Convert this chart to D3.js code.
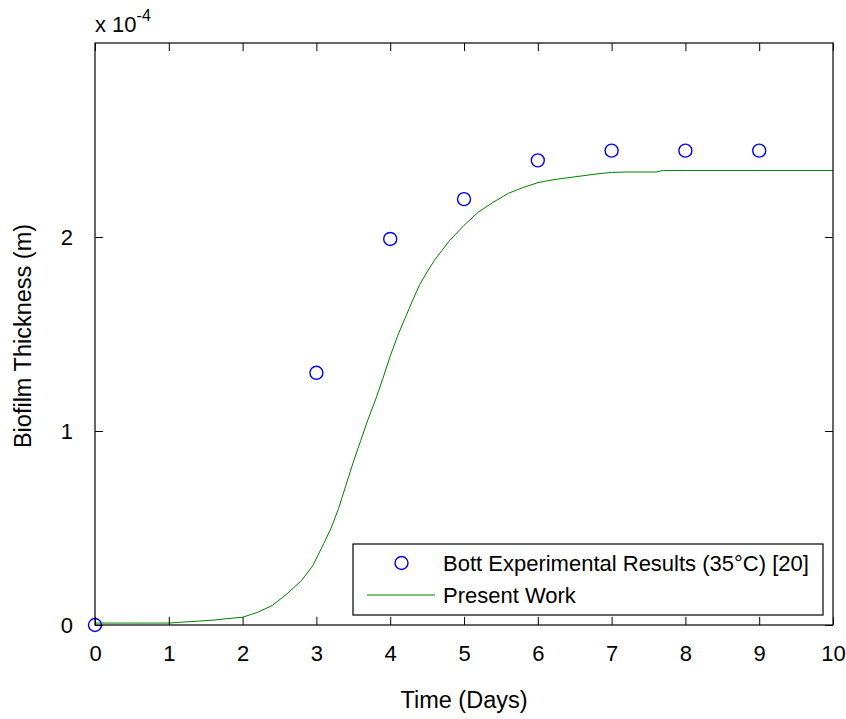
<!DOCTYPE html>
<html>
<head>
<meta charset="utf-8">
<script src="https://cdn.jsdelivr.net/npm/d3@7"></script>
<style>
  html, body { margin: 0; padding: 0; background: #fff; }
  svg { display: block; font-family: "Liberation Sans", Arial, sans-serif; }
</style>
</head>
<body>
<svg id="chart" width="846" height="719"></svg>
<script>
// ---- data (thickness in units of 1e-4 m) ----
const expDays = [0, 3, 4, 5, 6, 7, 8, 9];
const expThickness = [0, 1.30, 1.99, 2.195, 2.395, 2.445, 2.445, 2.445];

const modelDays = [0, 0.5, 1.0, 1.2, 1.4, 1.6, 1.8, 2.0, 2.2, 2.4, 2.6, 2.8, 2.95,
  3.1, 3.2, 3.3, 3.4, 3.5, 3.6, 3.7, 3.8, 3.9, 4.0, 4.1, 4.2, 4.3, 4.4, 4.5, 4.6,
  4.7, 4.8, 4.9, 5.0, 5.2, 5.4, 5.6, 5.8, 6.0, 6.2, 6.4, 6.6, 6.8, 7.0, 7.2, 7.6,
  7.7, 8, 9, 10];
const modelThickness = [0.01, 0.01, 0.01, 0.015, 0.02, 0.025, 0.033, 0.04, 0.065,
  0.10, 0.16, 0.23, 0.305, 0.42, 0.50, 0.60, 0.72, 0.84, 0.95, 1.06, 1.16, 1.27,
  1.385, 1.49, 1.58, 1.67, 1.755, 1.82, 1.88, 1.93, 1.98, 2.02, 2.06, 2.13, 2.18,
  2.225, 2.255, 2.28, 2.295, 2.305, 2.315, 2.325, 2.333, 2.335, 2.335, 2.343,
  2.343, 2.343, 2.343];

const xTicks = [0, 1, 2, 3, 4, 5, 6, 7, 8, 9, 10];
const yTicks = [0, 1, 2];
const xLabel = "Time (Days)";
const yLabel = "Biofilm Thickness (m)";
const legendLabels = ["Bott Experimental Results (35°C) [20]", "Present Work"];

// ---- layout ----
const L = 95, R = 833, T = 43, B = 625;
const svg = d3.select("#chart");
const x = d3.scaleLinear().domain([0, 10]).range([L, R]);
const y = d3.scaleLinear().domain([0, 3]).range([B, T]);
const fs = 22, fsLab = 23.5, tickLen = 8;

// curve
const line = d3.line().x((d, i) => x(modelDays[i])).y(d => y(d));
svg.append("path").datum(modelThickness)
  .attr("d", line).attr("fill", "none")
  .attr("stroke", "#008000").attr("stroke-width", 1);

// experimental markers
svg.append("g").selectAll("circle").data(expThickness).join("circle")
  .attr("cx", (d, i) => x(expDays[i])).attr("cy", d => y(d))
  .attr("r", 6.5).attr("fill", "none")
  .attr("stroke", "#0000ff").attr("stroke-width", 1.4);

// axes (ticks inside)
const axisStyle = g => {
  g.select(".domain").remove();
  g.selectAll(".tick line").attr("stroke", "#000").attr("stroke-width", 1);
  g.selectAll(".tick text").attr("fill", "#000")
    .style("font-size", fs + "px").style("font-family", '"Liberation Sans", Arial, sans-serif');
};
svg.append("g").attr("transform", `translate(0,${B})`)
  .call(d3.axisBottom(x).tickValues(xTicks).tickFormat(d3.format("d"))
    .tickSizeInner(-tickLen).tickSizeOuter(0).tickPadding(tickLen + 12))
  .call(axisStyle);
svg.append("g").attr("transform", `translate(0,${T})`)
  .call(d3.axisTop(x).tickValues(xTicks).tickFormat("")
    .tickSizeInner(-tickLen).tickSizeOuter(0))
  .call(axisStyle);
svg.append("g").attr("transform", `translate(${L},0)`)
  .call(d3.axisLeft(y).tickValues(yTicks).tickFormat(d3.format("d"))
    .tickSizeInner(-tickLen).tickSizeOuter(0).tickPadding(tickLen + 14))
  .call(axisStyle);
svg.append("g").attr("transform", `translate(${R},0)`)
  .call(d3.axisRight(y).tickValues(yTicks).tickFormat("")
    .tickSizeInner(-tickLen).tickSizeOuter(0))
  .call(axisStyle);

// box
svg.append("rect").attr("x", L).attr("y", T).attr("width", R - L).attr("height", B - T)
  .attr("fill", "none").attr("stroke", "#000").attr("stroke-width", 1.2);

// exponent label
const ex = svg.append("text").attr("x", L).attr("y", 32)
  .style("font-size", fs + "px").attr("fill", "#000");
ex.append("tspan").text("x 10");
ex.append("tspan").attr("dy", -11).style("font-size", "16px").text("-4");

// axis labels
svg.append("text").attr("x", (L + R) / 2).attr("y", 708)
  .attr("text-anchor", "middle").style("font-size", fsLab + "px").attr("fill", "#000")
  .text(xLabel);
svg.append("text").attr("transform", `translate(31,${(T + B) / 2 + 2}) rotate(-90)`)
  .attr("text-anchor", "middle").style("font-size", fsLab + "px").attr("fill", "#000")
  .text(yLabel);

// legend
const lg = svg.append("g");
lg.append("rect").attr("x", 353).attr("y", 544).attr("width", 470).attr("height", 71)
  .attr("fill", "#fff").attr("stroke", "#000").attr("stroke-width", 1.2);
lg.append("circle").attr("cx", 401.5).attr("cy", 563).attr("r", 6.5)
  .attr("fill", "none").attr("stroke", "#0000ff").attr("stroke-width", 1.4);
lg.append("line").attr("x1", 367).attr("x2", 435).attr("y1", 595).attr("y2", 595)
  .attr("stroke", "#008000").attr("stroke-width", 1);
lg.selectAll("text.lt").data(legendLabels).join("text").attr("class", "lt")
  .attr("x", 443).attr("y", (d, i) => 563 + i * 32).attr("dy", "0.35em")
  .style("font-size", fs + "px").attr("fill", "#000").text(d => d);
</script>
</body>
</html>
